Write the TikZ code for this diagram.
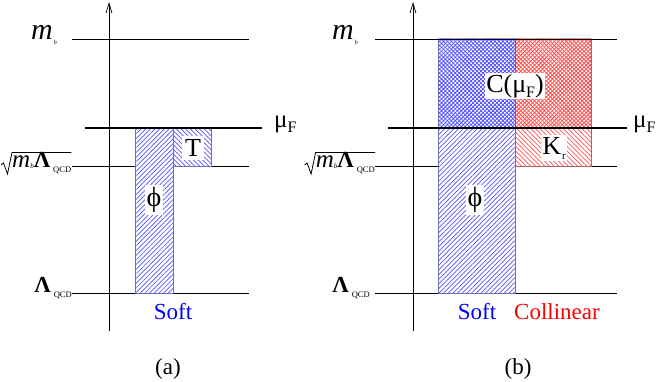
\documentclass[tikz,border=0pt]{standalone}
\usepackage{fontspec}
\setmainfont{Liberation Serif}
\usetikzlibrary{patterns.meta,arrows.meta}
\definecolor{hblue}{RGB}{80,80,255}
\definecolor{hred}{RGB}{255,80,80}
\definecolor{bblue}{RGB}{110,110,190}
\definecolor{bred}{RGB}{170,100,100}
\newcommand{\mymb}{{\fontsize{30}{30}\selectfont\itshape m}\kern1pt\raisebox{-5pt}{\fontsize{6}{6}\selectfont\itshape b}}
\newcommand{\mysmb}{{\fontsize{25}{25}\selectfont\itshape m}\raisebox{-1pt}{\fontsize{7}{7}\selectfont\itshape b}}
\newcommand{\myLq}{{\fontsize{23}{23}\selectfont\bfseries Λ}\kern3pt\raisebox{-5pt}{\fontsize{8.5}{8.5}\selectfont QCD}}
\newcommand{\mymuF}{{\fontsize{25}{25}\selectfont μ}\raisebox{-5pt}{\fontsize{16}{16}\selectfont F}}
\tikzset{
  level/.style={line width=0.8pt},
  fline/.style={line width=1.4pt},
  axisline/.style={line width=0.7pt,-{Straight Barb[length=10pt,width=6pt]}},
  nelines/.style={pattern={Lines[angle=45,distance=3.3pt,line width=0.7pt]}},
  nwlines/.style={pattern={Lines[angle=-45,distance=3.3pt,line width=0.7pt]}},
  xhatch/.style={pattern={Hatch[angle=45,distance=2.8pt,line width=0.8pt]}},
  boxedge/.style={line width=0.7pt},
  lbl/.style={inner sep=0pt},
  radical/.style={line width=0.8pt},
  boxlbl/.style={fill=white,inner sep=3pt,font=\fontsize{26}{26}\selectfont},
  caption/.style={inner sep=0pt,font=\fontsize{23}{23}\selectfont},
}
\begin{document}
\begin{tikzpicture}[x=1pt,y=-1pt]
\useasboundingbox (0,0) rectangle (657,382);
% ---------------- panel (a)
\coordinate (a0) at (109,331); \coordinate (a1) at (109,2);
\coordinate (am0) at (72,39);  \coordinate (am1) at (249,39);
\coordinate (af0) at (85,128); \coordinate (af1) at (262,128);
\coordinate (as0) at (72,166); \coordinate (as1) at (249,166);
\coordinate (al0) at (72,293); \coordinate (al1) at (249,293);
\draw[level] (am0) -- (am1);
\draw[level] (as0) -- (as1);
\draw[level] (al0) -- (al1);
\draw[axisline] (a0) -- (a1);
\path[fill=white] (135,128) rectangle (173,293);
\path[nelines,pattern color=hblue] (135,128) rectangle (173,293);
\draw[boxedge,draw=bblue] (135,128) rectangle (173,293);
\path[fill=white] (173,128) rectangle (211,166);
\path[nwlines,pattern color=hblue] (173,128) rectangle (211,166);
\draw[boxedge,draw=bblue] (173,128) rectangle (211,166);
\draw[fline] (af0) -- (af1);
\node[boxlbl] (aT) at (193,148) {T};
\node[boxlbl,inner sep=2pt] (aphi) at (154,200) {\fontsize{28}{28}\selectfont ϕ};
\node[caption,text=blue] (asoft) at (173,312) {Soft};
\node[caption] (acap) at (168,369) {(a)};
\node[lbl,anchor=base east] (amb) at (57,40) {\mymb};
\node[lbl,anchor=base west] (amu) at (274,128) {\mymuF};
\node[lbl,anchor=base east] (alq) at (72,293) {\myLq};
\node[lbl,anchor=base west] (asq) at (12,168) {\mysmb\myLq};
\draw[radical,shift={(asq.base west)}] (-11,-3) -- (-8.5,-5) -- (-4.5,6) -- (0,-15.5) -- ([yshift=15.5pt]asq.base east);
% ---------------- panel (b)
\coordinate (b0) at (413,331); \coordinate (b1) at (413,2);
\coordinate (bm0) at (375,39);  \coordinate (bm1) at (617,39);
\coordinate (bf0) at (388,128); \coordinate (bf1) at (627,128);
\coordinate (bs0) at (375,166); \coordinate (bs1) at (617,166);
\coordinate (bl0) at (375,293); \coordinate (bl1) at (617,293);
\draw[level] (bs0) -- (bs1);
\draw[level] (bl0) -- (bl1);
\draw[axisline] (b0) -- (b1);
\path[fill=white] (438,39) rectangle (591,128);
\path[xhatch,pattern color=hblue] (438,39) rectangle (515,128);
\path[xhatch,pattern color=hred] (515,39) rectangle (591,128);
\draw[boxedge,draw=bblue] (438,128) -- (438,39);
\draw[boxedge,draw=bred] (591,39) -- (591,128);
\draw[draw=hblue!70!gray,line width=0.5pt] (515,39) -- (515,128);
\path[fill=white] (438,128) rectangle (515,293);
\path[nelines,pattern color=hblue] (438,128) rectangle (515,293);
\draw[boxedge,draw=bblue] (438,128) rectangle (515,293);
\path[fill=white] (515,128) rectangle (591,166);
\path[nwlines,pattern color=hred] (515,128) rectangle (591,166);
\draw[boxedge,draw=bred] (515,128) rectangle (591,166);
\draw[level] (bm0) -- (bm1);
\draw[fline] (bf0) -- (bf1);
\node[boxlbl,inner sep=1.5pt] (bC) at (515,86) {C(μ\raisebox{-5pt}{\fontsize{16}{16}\selectfont F})};
\node[boxlbl,inner sep=1.5pt] (bK) at (554,148) {K\kern1pt\raisebox{-5pt}{\fontsize{11}{11}\selectfont r}};
\node[boxlbl,inner sep=2pt] (bphi) at (475,200) {\fontsize{28}{28}\selectfont ϕ};
\node[caption,text=blue] (bsoft) at (477,312) {Soft};
\node[caption,text=red] (bcol) at (557,312) {Collinear};
\node[caption] (bcap) at (518,369) {(b)};
\node[lbl,anchor=base east] (bmb) at (358,40) {\mymb};
\node[lbl,anchor=base west] (bmu) at (633,128) {\mymuF};
\node[lbl,anchor=base east] (blq) at (370,293) {\myLq};
\node[lbl,anchor=base east] (bsq) at (375,168) {\mysmb\myLq};
\draw[radical,shift={(bsq.base west)}] (-11,-3) -- (-8.5,-5) -- (-4.5,6) -- (0,-15.5) -- ([yshift=15.5pt]bsq.base east);
\end{tikzpicture}
\end{document}
